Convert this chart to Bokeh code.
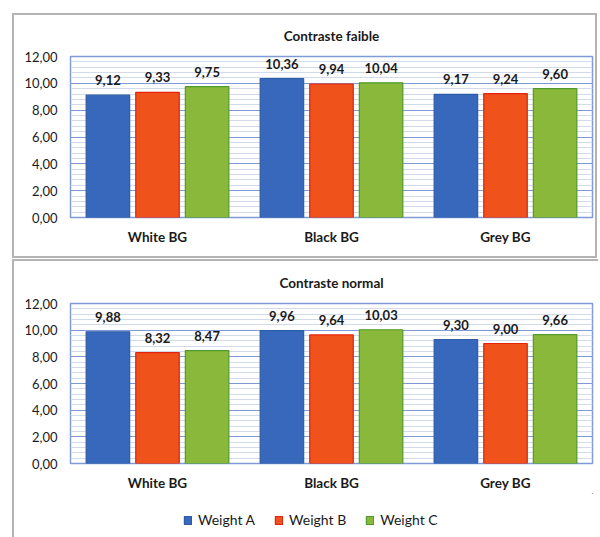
from bokeh.plotting import figure
from bokeh.models import (ColumnDataSource, FactorRange, SingleIntervalTicker,
                          CustomJSTickFormatter, Legend, LegendItem, Title, Range1d)
from bokeh.core.properties import value
from bokeh.transform import dodge
from bokeh.layouts import column
from bokeh.embed import file_html
from bokeh.resources import INLINE

categories = ["White BG", "Black BG", "Grey BG"]
series = ["Weight A", "Weight B", "Weight C"]
faible_a = [9.12, 10.36, 9.17]
faible_b = [9.33, 9.94, 9.24]
faible_c = [9.75, 10.04, 9.60]
normal_a = [9.88, 9.96, 9.30]
normal_b = [8.32, 9.64, 9.00]
normal_c = [8.47, 10.03, 9.66]
titles = ["Contraste faible", "Contraste normal"]

fills = ["#3768bc", "#f0521b", "#8ab83a"]
lines = ["#2d5ca6", "#e3220f", "#4f9a2a"]
offsets = [-0.285, 0.0, 0.285]
FONT = "Lato"
FONT_V = value(FONT)


def fmt(v):
    return f"{v:.2f}".replace(".", ",")


def make(title, a, b, c, w, top, fh, bottom, left):
    src = ColumnDataSource(dict(cat=categories, a=a, b=b, c=c,
                                la=[fmt(v) for v in a],
                                lb=[fmt(v) for v in b],
                                lc=[fmt(v) for v in c]))
    p = figure(x_range=FactorRange(*categories, range_padding=0),
               y_range=(0, 12), frame_width=522, frame_height=fh,
               min_border_left=left, min_border_right=w - left - 522,
               min_border_top=top, min_border_bottom=bottom,
               output_backend="svg", toolbar_location=None)
    t = Title(text=title, align="center", text_font=FONT, text_font_size="13.5px",
              text_font_style="bold", text_color="#1a1a1a", standoff=25)
    p.add_layout(t, "above")
    for key, lab, off, fc, lc in zip(["a", "b", "c"], ["la", "lb", "lc"], offsets, fills, lines):
        p.vbar(x=dodge("cat", off, range=p.x_range), top=key, width=0.25,
               source=src, fill_color=fc, line_color=lc, line_width=1.2)
        p.text(x=dodge("cat", off, range=p.x_range), y=key, text=lab, source=src,
               text_align="center", text_baseline="bottom", y_offset=-10,
               text_font_size="13px", text_font_style="bold",
               text_color="#1a1a1a", text_font=FONT_V)
    ticker = SingleIntervalTicker(interval=2, num_minor_ticks=5)
    p.yaxis.ticker = ticker
    p.yaxis.formatter = CustomJSTickFormatter(code="return tick.toFixed(2).replace('.', ',');")
    p.ygrid.ticker = ticker
    p.ygrid.grid_line_color = "#7f9ad6"
    p.ygrid.grid_line_width = 1
    p.ygrid.minor_grid_line_color = "#d3dbea"
    p.xgrid.grid_line_color = None
    for ax in (p.xaxis, p.yaxis):
        ax.axis_line_color = None
        ax.major_tick_line_color = None
        ax.minor_tick_line_color = None
        ax.major_tick_out = 0
        ax.minor_tick_out = 0
        ax.major_tick_in = 0
        ax.major_label_text_font = FONT
        ax.major_label_text_font_size = "13.5px"
        ax.major_label_text_color = "#1a1a1a"
    p.yaxis.major_label_text_font_size = "13px"
    p.yaxis.major_label_standoff = 13
    p.xaxis.major_label_text_font_style = "bold"
    p.xaxis.major_label_standoff = 11
    p.outline_line_color = "#7f9ad6"
    p.outline_line_width = 1.5
    p.background_fill_color = "white"
    p.border_fill_color = None
    return p


p1 = make(titles[0], faible_a, faible_b, faible_c, 585, 42, 161, 41, 58)
p1.margin = (13, 0, 0, 12)
p1.styles = {"box-shadow": "inset 0 0 0 2px #b4b4b4"}
p2 = make(titles[1], normal_a, normal_b, normal_c, 586, 44, 160, 30, 58)
p2.margin = (1, 0, 0, 12)
p2.styles = {"box-shadow": "inset 2px 2px 0 0 #b4b4b4"}

# legend strip
p3 = figure(width=586, height=44, x_range=Range1d(0, 1), y_range=Range1d(0, 1),
            min_border=0, output_backend="svg", toolbar_location=None)
p3.axis.visible = False
p3.grid.visible = False
p3.outline_line_color = None
p3.border_fill_color = None
p3.background_fill_color = None
leg_r = []
for fc, lc in zip(fills, lines):
    leg_r.append(p3.vbar(x=[5], top=[5], bottom=[4], width=0.1,
                         fill_color=fc, line_color=lc, line_width=1.2))
items = [LegendItem(label=s, renderers=[r]) for s, r in zip(series, leg_r)]
lg = Legend(items=items, orientation="horizontal", location=(113, 9),
            label_text_font=FONT, label_text_font_size="14px",
            label_text_color="#1a1a1a", glyph_width=9, glyph_height=10,
            spacing=19, label_standoff=6, border_line_color=None,
            background_fill_alpha=0, margin=0, padding=2)
p3.add_layout(lg, "center")
p3.margin = (0, 0, 0, 12)
p3.styles = {"box-shadow": "inset 2px 0 0 0 #b4b4b4"}

layout = column(p1, p2, p3, spacing=0)
open("out.html", "w").write(file_html(layout, INLINE))
